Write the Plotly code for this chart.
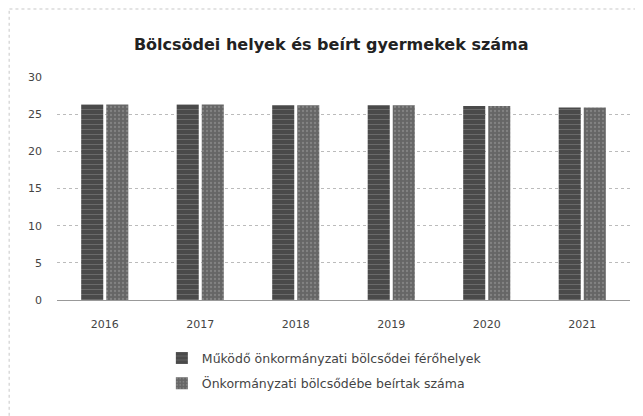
import plotly.graph_objects as go

years = ["2016", "2017", "2018", "2019", "2020", "2021"]
ferohelyek = [26.3, 26.3, 26.2, 26.2, 26.1, 25.9]
beirtak = [26.3, 26.3, 26.2, 26.2, 26.1, 25.9]
y_ticks = [0, 5, 10, 15, 20, 25, 30]

name1 = "Működő önkormányzati bölcsődei férőhelyek"
name2 = "Önkormányzati bölcsődébe beírtak száma"

fig = go.Figure()
fig.add_trace(go.Bar(x=years, y=ferohelyek, name=name1, legendgroup="a",
                     marker=dict(color="#4a4a4a", line=dict(width=0),
                                 pattern=dict(shape="-", fgcolor="#8a8a8a", size=5, solidity=0.2))))
fig.add_trace(go.Bar(x=years, y=beirtak, name=name2, legendgroup="b",
                     marker=dict(color="#666666", line=dict(width=0),
                                 pattern=dict(shape=".", fgcolor="#a0a0a0", size=4, solidity=0.25))))

# page body has an 8px default margin, so the figure is drawn 8px smaller
fig.update_layout(
    width=635, height=408,
    margin=dict(l=49, r=13, t=69, b=116),
    paper_bgcolor="white", plot_bgcolor="white",
    barmode="group", bargap=0.475, bargroupgap=0.12,
    font=dict(family="DejaVu Sans", color="#333333", size=10),
    title=dict(text="<b>Bölcsödei helyek és beírt gyermekek száma</b>",
               x=0.509, xanchor="center", y=0.912, yanchor="middle",
               font=dict(family="DejaVu Sans", size=16, color="#222222")),
    showlegend=True,
    legend=dict(orientation="v", x=0.183, xanchor="left", y=-0.195, yanchor="top",
                font=dict(size=12.5, color="#444444"), tracegroupgap=6,
                bgcolor="rgba(0,0,0,0)", itemwidth=30),
    xaxis=dict(showgrid=False, showline=True, linecolor="#999999", linewidth=1,
               ticks="", ticklabelstandoff=14, automargin=False,
               tickfont=dict(size=11, color="#444444")),
    yaxis=dict(range=[0, 30], tickvals=y_ticks, showgrid=True, gridcolor="#bbbbbb",
               griddash="dot", gridwidth=1, zeroline=False, showline=False,
               ticks="", ticklabelstandoff=14, automargin=False,
               tickfont=dict(size=11, color="#444444")),
    shapes=[dict(type="line", xref="paper", yref="paper", x0=-0.083, x1=1.05,
                 y0=1.305, y1=1.305, line=dict(color="#c8c8c8", width=1, dash="dot")),
            dict(type="line", xref="paper", yref="paper", x0=-0.0835, x1=-0.0835,
                 y0=-0.6, y1=1.305, line=dict(color="#c8c8c8", width=1, dash="dot"))],
)

fig.write_html("out.html")
